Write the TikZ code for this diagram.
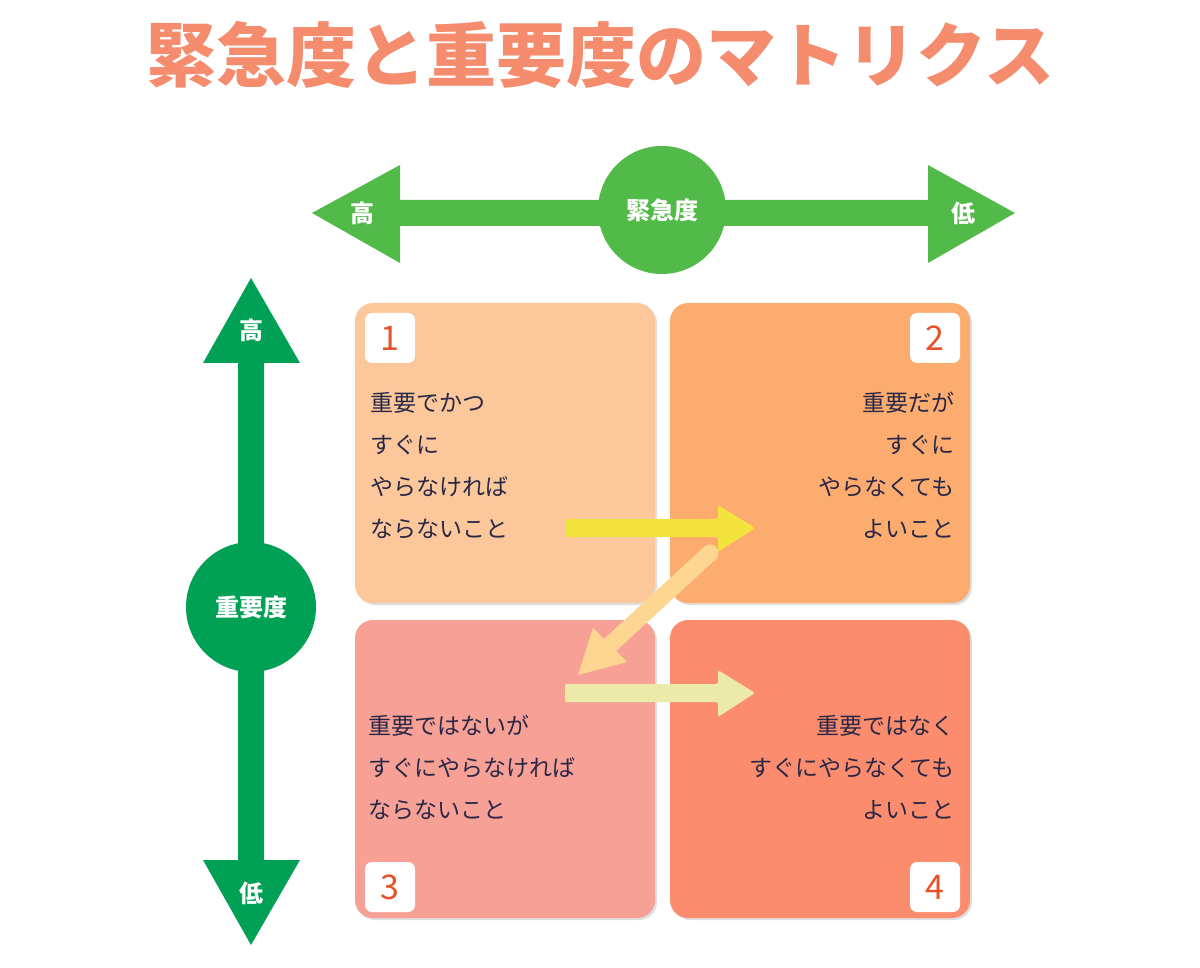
\documentclass[tikz,border=0pt]{standalone}
\usepackage{fontspec}
\newfontfamily\cjk{Noto Sans CJK JP}
\usetikzlibrary{shadows}
\definecolor{ttl}{RGB}{245,140,110}
\definecolor{hg}{RGB}{82,186,72}
\definecolor{vg}{RGB}{0,160,85}
\definecolor{b1}{RGB}{252,200,155}
\definecolor{b2}{RGB}{253,172,112}
\definecolor{b3}{RGB}{247,160,150}
\definecolor{b4}{RGB}{252,140,110}
\definecolor{num}{RGB}{232,82,40}
\definecolor{txt}{RGB}{40,40,70}
\definecolor{ay}{RGB}{242,228,60}
\definecolor{ao}{RGB}{253,215,145}
\definecolor{al}{RGB}{236,234,170}
\tikzset{
 box/.style={rounded corners=18pt, drop shadow={shadow xshift=2pt,shadow yshift=-2pt,opacity=0.25}},
 badge/.style={fill=white, rounded corners=7pt, minimum width=50pt, minimum height=50pt, text=num, font=\cjk\fontsize{34}{34}\selectfont},
 lbl/.style={text=txt, font=\cjk\fontsize{23}{42}\selectfont, inner sep=0pt},
 wl/.style={text=white, font=\cjk\bfseries\fontsize{24}{24}\selectfont}
}
\begin{document}
\begin{tikzpicture}[x=1pt,y=-1pt]
\useasboundingbox[fill=white] (0,0) rectangle (1200,968);
\node[text=ttl, font=\cjk\bfseries\fontsize{70}{70}\selectfont] (title) at (600,55) {緊急度と重要度のマトリクス};
% horizontal arrow
\fill[hg] (312,213) -- (400,165) -- (400,200) -- (928,200) -- (928,165) -- (1015,213) -- (928,263) -- (928,226) -- (400,226) -- (400,263) -- cycle;
\node[circle, fill=hg, minimum size=128pt, wl] (urg) at (662,210) {緊急度};
\node[wl] (uh) at (362,213) {高};
\node[wl] (ul) at (963,213) {低};
% vertical arrow
\fill[vg] (251,278) -- (300,363) -- (264,363) -- (264,860) -- (300,860) -- (251,945) -- (203,860) -- (238,860) -- (238,363) -- (203,363) -- cycle;
\node[circle, fill=vg, minimum size=130pt, wl] (imp) at (251,607) {重要度};
\node[wl] (ih) at (251,330) {高};
\node[wl] (il) at (251,893) {低};
% boxes
\fill[box, b1] (355,303) rectangle (655,603);
\fill[box, b2] (670,303) rectangle (970,603);
\fill[box, b3] (355,620) rectangle (655,918);
\fill[box, b4] (670,620) rectangle (970,918);
\node[badge] (n1) at (390,338) {1};
\node[badge] (n2) at (935,338) {2};
\node[badge] (n3) at (390,887) {3};
\node[badge] (n4) at (935,887) {4};
\node[lbl, anchor=north west, align=left] (t1) at (370,392) {重要でかつ\\すぐに\\やらなければ\\ならないこと};
\node[lbl, anchor=north east, align=right] (t2) at (955,392) {重要だが\\すぐに\\やらなくても\\よいこと};
\node[lbl, anchor=north west, align=left] (t3) at (368,715) {重要ではないが\\すぐにやらなければ\\ならないこと};
\node[lbl, anchor=north east, align=right] (t4) at (955,715) {重要ではなく\\すぐにやらなくても\\よいこと};
% flow arrows
\coordinate (a1s) at (565,528); \coordinate (a1e) at (755,528);
\fill[ay, rounded corners=2pt] (565,519) -- (718,519) -- (718,505) -- (755,528) -- (718,552) -- (718,537) -- (565,537) -- cycle;
\coordinate (a2s) at (710,553); \coordinate (a2e) at (578,675);
\draw[ao, line width=17pt, line cap=round] (710,553) -- (610,645);
\fill[ao] (578,675) -- (593,628) -- (627,662) -- cycle;
\fill[al, rounded corners=2pt] (565,684) -- (718,684) -- (718,670) -- (755,693) -- (718,717) -- (718,702) -- (565,702) -- cycle;
\end{tikzpicture}
\end{document}
